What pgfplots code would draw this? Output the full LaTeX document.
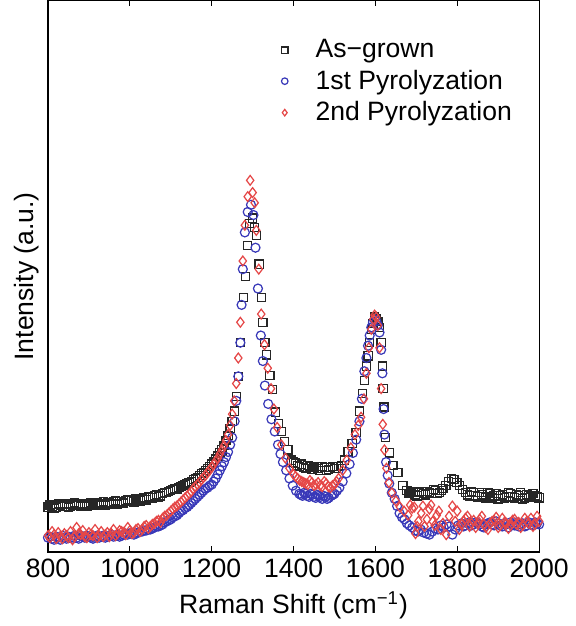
\documentclass[border=0pt]{standalone}
\usepackage{fontspec}
\setmainfont{Liberation Sans}
\usepackage{pgfplots}
\usepackage{pgfplotstable}
\pgfplotsset{compat=1.18}
\definecolor{cblack}{rgb}{0.15,0.15,0.15}
\definecolor{cblue}{rgb}{0.22,0.22,0.72}
\definecolor{cred}{rgb}{0.90,0.28,0.28}
\pgfplotsset{mylegimg/.style={legend image code/.code={\path (0cm,-0.1cm) (0.75cm,0.1cm); \draw[mark repeat=2,mark phase=2,##1,mark size=1.6pt] plot coordinates {(0cm,0cm) (0.3cm,0cm) (0.75cm,0cm)};}}}

\pgfplotstableread{
x y
800 44
810 45
820 44
830 46
840 45
850 44
860 46
870 47
880 45
890 46
900 47
910 46
920 48
930 47
940 46
950 48
960 49
970 47
980 49
990 50
1000 50
1010 49
1020 51
1030 52
1040 51
1050 53
1060 55
1070 54
1080 57
1090 58
1100 60
1110 62
1120 63
1130 65
1140 67
1150 69
1160 72
1170 75
1180 78
1190 82
1200 86
1210 91
1220 97
1230 104
1240 114
1250 128
1255 138
1260 152
1265 172
1270 205
1277 249
1282 270
1287 300
1293 322
1300 327
1305 318
1309 310
1316 282
1321 249
1325 225
1330 205
1334 193
1342 173
1348 159
1356 137
1363 126
1370 118
1378 108
1386 100
1395 90
1405 87
1415 84
1425 83
1435 85
1445 81
1455 84
1465 80
1475 83
1485 81
1495 84
1505 82
1517 85
1525 90
1533 98
1543 106
1553 117
1561 138
1569 155
1573 168
1578 182
1582 192
1586 205
1590 218
1594 224
1598 230
1602 228
1606 226
1610 220
1614 205
1617 182
1619 160
1621 142
1625 112
1634 97
1643 85
1655 78
1667 65
1677 60
1687 58
1697 56
1707 58
1717 57
1727 59
1737 57
1747 60
1757 58
1765 62
1772 65
1779 69
1786 72
1792 71
1799 68
1806 65
1813 61
1820 58
1830 55
1840 58
1850 54
1860 56
1870 53
1880 57
1890 55
1900 52
1910 56
1920 54
1930 57
1940 53
1950 55
1960 52
1970 56
1980 54
1990 55
2000 53
805 46
815 43
825 47
835 45
845 47
855 45
865 48
875 46
885 47
895 45
905 48
915 47
925 46
935 49
945 48
955 47
965 50
975 49
985 48
995 51
1005 50
1015 52
1025 50
1035 53
1045 54
1055 53
1065 56
1075 55
1085 58
1095 59
1105 61
1115 61
1125 64
1135 66
1145 68
1155 71
1165 73
1175 77
1185 80
1195 84
1205 88
1215 94
1225 100
1235 109
1245 121
1400 88
1410 85
1420 86
1430 82
1440 84
1450 83
1460 82
1470 84
1480 80
1490 83
1500 82
1510 84
1682 57
1692 59
1702 55
1712 59
1722 56
1732 58
1742 61
1752 57
1762 60
1825 56
1835 59
1845 55
1855 58
1865 54
1875 58
1885 53
1895 57
1905 55
1915 53
1925 58
1935 54
1945 56
1955 58
1965 53
1975 55
1985 57
1995 54
}\asgrown

\pgfplotstableread{
x y
800 14
810 13
820 15
830 12
840 14
850 15
860 13
870 14
880 16
890 14
900 15
910 13
920 16
930 15
940 14
950 16
960 15
970 17
980 16
990 18
1000 18
1010 17
1020 19
1030 20
1040 21
1050 22
1060 24
1070 25
1080 27
1090 30
1100 32
1110 35
1120 38
1130 41
1140 44
1150 48
1160 52
1170 56
1180 60
1190 63
1200 66
1210 72
1220 80
1230 88
1240 98
1250 112
1256 128
1260 148
1265 172
1270 205
1273 242
1276 277
1281 313
1288 333
1296 340
1302 330
1307 298
1313 258
1320 212
1325 187
1330 163
1338 145
1346 130
1354 118
1362 105
1368 96
1374 88
1382 80
1390 72
1398 65
1406 60
1414 57
1422 55
1430 57
1438 54
1446 56
1454 53
1462 55
1470 52
1478 54
1486 53
1492 55
1500 57
1506 60
1512 63
1520 69
1529 77
1537 86
1545 97
1553 110
1561 128
1567 150
1573 177
1578 190
1582 202
1586 212
1590 220
1594 225
1598 228
1602 226
1606 222
1610 215
1614 198
1617 175
1620 140
1622 115
1626 88
1630 75
1634 67
1640 58
1647 52
1653 45
1659 38
1665 34
1671 32
1677 28
1683 26
1690 24
1697 21
1704 20
1711 22
1718 19
1725 18
1732 17
1739 20
1746 23
1753 22
1760 26
1767 24
1774 27
1781 25
1788 17
1795 22
1802 26
1810 28
1820 26
1830 29
1840 27
1850 28
1860 25
1870 27
1880 29
1890 26
1900 28
1910 25
1920 27
1930 29
1940 26
1950 25
1960 28
1970 26
1980 27
1990 29
2000 27
805 15
815 12
825 14
835 16
845 13
855 14
865 16
875 13
885 15
895 16
905 14
915 15
925 14
935 16
945 15
955 17
965 16
975 15
985 17
995 17
1005 19
1015 18
1025 20
1035 21
1045 22
1055 23
1065 25
1075 26
1085 29
1095 31
1105 34
1115 36
1125 40
1135 43
1145 46
1155 50
1165 54
1175 58
1185 62
1195 65
1205 69
1215 76
1225 84
1235 93
1245 105
1418 56
1426 58
1434 55
1442 57
1450 54
1458 56
1466 54
1474 55
1482 52
1496 56
1815 25
1825 28
1835 26
1845 29
1855 27
1865 24
1875 28
1885 27
1895 30
1905 26
1915 28
1925 24
1935 27
1945 29
1955 27
1965 25
1975 29
1985 26
1995 28
}\firstpyro

\pgfplotstableread{
x y
800 16
810 20
820 13
830 15
840 18
850 14
860 12
870 24
880 17
890 15
900 19
910 16
920 14
930 20
940 17
950 15
960 22
970 18
980 20
990 17
1000 21
1010 19
1020 23
1030 22
1040 26
1050 25
1060 28
1070 31
1080 33
1090 36
1100 40
1110 44
1120 47
1130 51
1140 55
1150 59
1160 64
1170 68
1180 73
1190 78
1200 83
1210 89
1220 96
1230 104
1240 115
1245 124
1250 135
1255 148
1260 165
1265 190
1270 225
1276 285
1281 320
1288 348
1294 364
1300 352
1305 342
1309 315
1315 277
1321 233
1329 203
1337 180
1345 160
1352 140
1360 122
1370 105
1380 92
1390 82
1400 76
1410 72
1420 69
1430 67
1440 70
1450 65
1460 68
1470 64
1480 67
1490 63
1500 66
1510 72
1520 80
1530 90
1540 102
1550 115
1558 124
1565 132
1572 150
1578 175
1584 200
1590 218
1595 228
1598 232
1602 230
1606 222
1610 200
1614 160
1618 125
1622 100
1627 82
1633 68
1640 58
1650 50
1660 44
1670 40
1680 36
1690 43
1698 18
1705 30
1712 38
1720 25
1732 42
1740 30
1750 36
1760 22
1773 17
1780 35
1788 45
1795 30
1805 22
1815 30
1825 35
1835 28
1845 24
1855 32
1865 27
1875 22
1885 30
1895 34
1905 26
1915 29
1925 23
1935 31
1945 27
1955 24
1965 33
1975 28
1985 25
1995 35
2000 30
805 14
815 17
825 19
835 13
845 16
855 20
865 15
875 18
885 21
895 14
905 17
915 22
925 16
935 15
945 19
955 18
965 16
975 21
985 19
995 24
1005 18
1015 22
1025 20
1035 25
1045 23
1055 27
1065 30
1075 29
1085 35
1095 38
1105 42
1115 45
1125 49
1135 53
1145 57
1155 62
1165 66
1175 71
1185 75
1195 80
1205 86
1215 92
1225 100
1235 109
1405 74
1415 70
1425 68
1435 66
1445 68
1455 66
1465 65
1475 69
1485 64
1495 65
1505 69
1685 46
1695 44
1702 25
1716 45
1726 32
1736 46
1745 26
1755 40
1765 28
1800 40
1810 27
1820 33
1830 25
1840 31
1850 28
1860 35
1870 24
1880 28
1890 31
1900 24
1910 33
1920 28
1930 26
1940 32
1950 29
1960 26
1970 30
1980 33
1990 27
}\secondpyro

\begin{document}
\begin{tikzpicture}
\begin{axis}[
  scale only axis,
  width=240.5pt, height=270pt,
  xmin=800, xmax=2000, ymin=0, ymax=540,
  xtick={800,1000,...,2000},
  ytick=\empty,
  xtick pos=both,
  tick align=inside,
  major tick length=2.75pt,
  axis line style={line width=0.6pt},
  every tick/.style={line width=0.6pt, black},
  /pgf/number format/1000 sep={},
  /pgf/number format/assume math mode=true,
  tick label style={font=\fontsize{13}{15}\selectfont},
  label style={font=\fontsize{13}{15}\selectfont},
  ylabel style={yshift=1pt},
  xlabel={Raman Shift (cm\textsuperscript{−1})},
  ylabel={Intensity (a.u.)},
  legend style={draw=none, fill=none, at={(0.432,0.945)}, anchor=north west,
    font=\fontsize{13}{15}\selectfont, row sep=0.5pt},
  legend cell align=left,
]
\addplot[only marks, mark=square, mark size=2pt, cblack, line width=0.6pt, mylegimg] table[x=x,y=y] {\asgrown};
\addlegendentry{As−grown}
\addplot[only marks, mark=o, mark size=2.2pt, cblue, line width=0.6pt, mylegimg] table[x=x,y=y] {\firstpyro};
\addlegendentry{1st Pyrolyzation}
\addplot[only marks, mark=diamond, mark size=2.4pt, cred, line width=0.6pt, mylegimg] table[x=x,y=y] {\secondpyro};
\addlegendentry{2nd Pyrolyzation}
\end{axis}
\path (current axis.south west) ++(-23.5pt,0pt);
\end{tikzpicture}
\end{document}
